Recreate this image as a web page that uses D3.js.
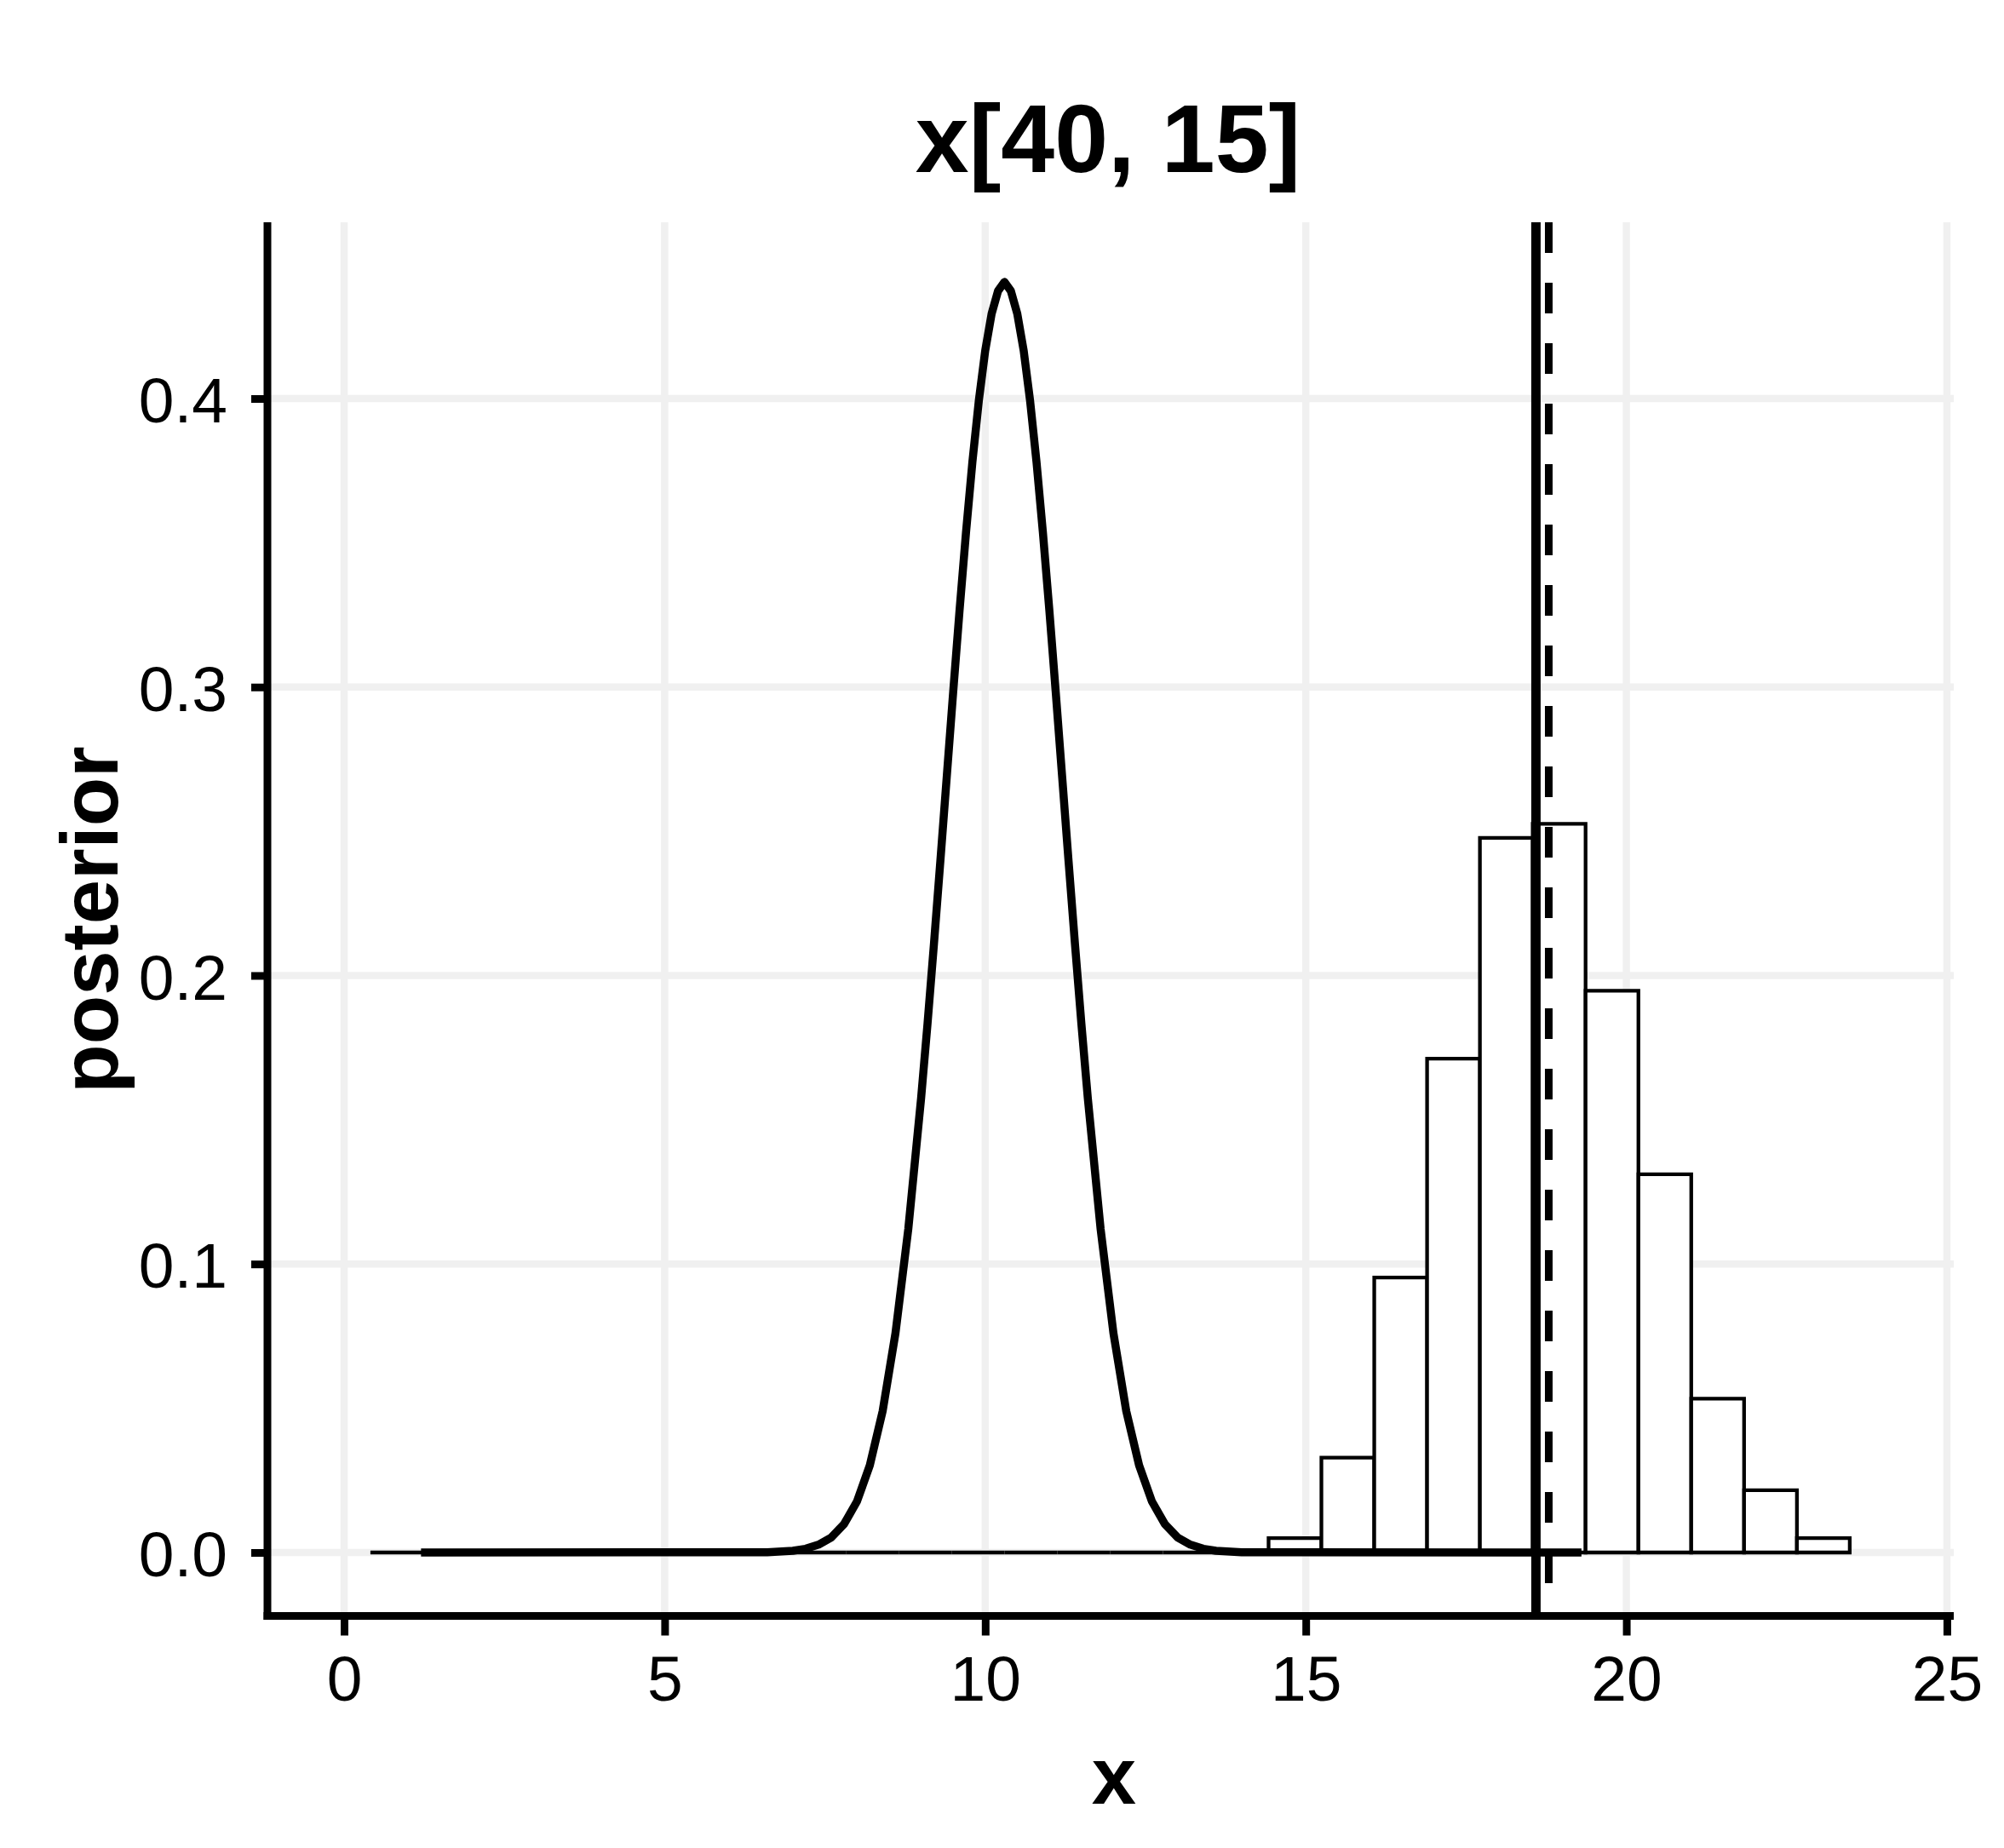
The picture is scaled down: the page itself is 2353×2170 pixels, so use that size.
<!DOCTYPE html>
<html>
<head>
<meta charset="utf-8">
<script src="https://cdn.jsdelivr.net/npm/d3@7"></script>
<style>
  body { margin: 0; background: #fff; }
  text { font-family: "Liberation Sans", Arial, Helvetica, sans-serif; fill: #000; }
</style>
</head>
<body>
<div id="chart"></div>
<script>
// histogram: first bin left edge, common width, bar heights (density)
var binStart = 0.41;
var binWidth = 0.8241;
var binHeights = [0, 0, 0, 0, 0, 0, 0, 0, 0, 0, 0, 0, 0, 0, 0, 0, 0,
                  0.0050, 0.0329, 0.0953, 0.1712, 0.2477, 0.2526, 0.1947,
                  0.1311, 0.0533, 0.0216, 0.0050];

// prior / density curve
var curveX = [1.20, 6.6, 7.0, 7.2, 7.4, 7.6, 7.8, 8.0, 8.2, 8.4, 8.6, 8.8, 9.0, 9.1,
              9.2, 9.3, 9.4, 9.5, 9.6, 9.7, 9.8, 9.9, 10.0, 10.1, 10.2, 10.3, 10.4,
              10.5, 10.6, 10.7, 10.8, 10.9, 11.0, 11.1, 11.2, 11.3, 11.4, 11.5, 11.6,
              11.8, 12.0, 12.2, 12.4, 12.6, 12.8, 13.0, 13.2, 13.4, 13.6, 14.0, 19.3];
var curveY = [0, 0.0001, 0.0006, 0.0013, 0.0027, 0.0052, 0.0099, 0.0177, 0.0302,
              0.0490, 0.0760, 0.1121, 0.1575, 0.1833, 0.2109, 0.2396, 0.2689,
              0.2982, 0.3267, 0.3535, 0.3780, 0.3992, 0.4166, 0.4294, 0.4373,
              0.4404, 0.4373, 0.4294, 0.4166, 0.3992, 0.3780, 0.3535, 0.3267,
              0.2982, 0.2689, 0.2396, 0.2109, 0.1833, 0.1575, 0.1121, 0.0760,
              0.0490, 0.0302, 0.0177, 0.0099, 0.0052, 0.0027, 0.0013, 0.0006,
              0.0001, 0];

// reference lines: solid and dashed
var solidLineX = 18.59;
var dashedLineX = 18.79;

var xTicks = [0, 5, 10, 15, 20, 25];
var yTicks = [0, 0.1, 0.2, 0.3, 0.4];

var W = 2353, H = 2170;
var pLeft = 314, pRight = 2294, pTop = 261, pBottom = 1897.5;

var svg = d3.select("#chart").append("svg")
    .attr("width", W).attr("height", H);

var x = d3.scaleLinear().domain([-1.196, 25.107]).range([pLeft, pRight]);
var y = d3.scaleLinear().domain([-0.0220, 0.4611]).range([pBottom, pTop]);

// grid
var grid = svg.append("g");
grid.selectAll(".gx").data(xTicks).enter().append("line")
    .attr("x1", function(d){ return x(d); }).attr("x2", function(d){ return x(d); })
    .attr("y1", pTop).attr("y2", pBottom)
    .attr("stroke", "#f0f0f0").attr("stroke-width", 8.5);
grid.selectAll(".gy").data(yTicks).enter().append("line")
    .attr("x1", pLeft).attr("x2", pRight)
    .attr("y1", function(d){ return y(d); }).attr("y2", function(d){ return y(d); })
    .attr("stroke", "#f0f0f0").attr("stroke-width", 8.5);

// histogram bars (paths so that empty bins still show their outline)
svg.append("g").selectAll("path").data(binHeights).enter().append("path")
    .attr("d", function(d, i){
      var x0 = x(binStart + i * binWidth), x1 = x(binStart + (i + 1) * binWidth);
      return "M" + x0 + "," + y(0) + "V" + y(d) + "H" + x1 + "V" + y(0) + "Z";
    })
    .attr("fill", "#fff").attr("stroke", "#000").attr("stroke-width", 4.3);

// curve
var pts = curveX.map(function(v, i){ return [v, curveY[i]]; });
svg.append("path").datum(pts)
    .attr("d", d3.line().x(function(d){ return x(d[0]); }).y(function(d){ return y(d[1]); }))
    .attr("fill", "none").attr("stroke", "#000").attr("stroke-width", 9.5)
    .attr("stroke-linejoin", "round");

// vertical lines
svg.append("line")
    .attr("x1", x(solidLineX)).attr("x2", x(solidLineX))
    .attr("y1", pTop).attr("y2", pBottom)
    .attr("stroke", "#000").attr("stroke-width", 11);
svg.append("line")
    .attr("x1", x(dashedLineX)).attr("x2", x(dashedLineX))
    .attr("y1", pTop).attr("y2", pBottom)
    .attr("stroke", "#000").attr("stroke-width", 9)
    .attr("stroke-dasharray", "36,35");

// axes
var xAxis = svg.append("g").attr("transform", "translate(0," + pBottom + ")")
    .call(d3.axisBottom(x).tickValues(xTicks).tickSize(23).tickSizeOuter(0));
var yAxis = svg.append("g").attr("transform", "translate(" + pLeft + ",0)")
    .call(d3.axisLeft(y).tickValues(yTicks).tickFormat(d3.format(".1f")).tickSize(19).tickSizeOuter(0));

[xAxis, yAxis].forEach(function(a){
  a.select(".domain").attr("stroke", "#000").attr("stroke-width", 9);
  a.selectAll(".tick line").attr("stroke", "#000").attr("stroke-width", 9);
  a.selectAll(".tick text").style("font-size", "75px").attr("fill", "#000");
});
xAxis.selectAll(".tick text").attr("y", 99).attr("dy", 0);
yAxis.selectAll(".tick text").attr("x", -47).attr("dy", "0.37em");

// extend axis lines to the corner
xAxis.select(".domain").attr("d", "M" + (pLeft - 4.5) + ",0H" + pRight);
yAxis.select(".domain").attr("d", "M0," + pTop + "V" + (pBottom + 4.5));

// titles
svg.append("text").attr("x", 1301).attr("y", 202)
    .attr("text-anchor", "middle").style("font-size", "113px").style("font-weight", "bold")
    .text("x[40, 15]");
svg.append("text").attr("x", 1308).attr("y", 2118)
    .attr("text-anchor", "middle").style("font-size", "94px").style("font-weight", "bold")
    .text("x");
svg.append("text").attr("transform", "translate(138,1080) rotate(-90)")
    .attr("text-anchor", "middle").style("font-size", "94px").style("font-weight", "bold")
    .text("posterior");
</script>
</body>
</html>
